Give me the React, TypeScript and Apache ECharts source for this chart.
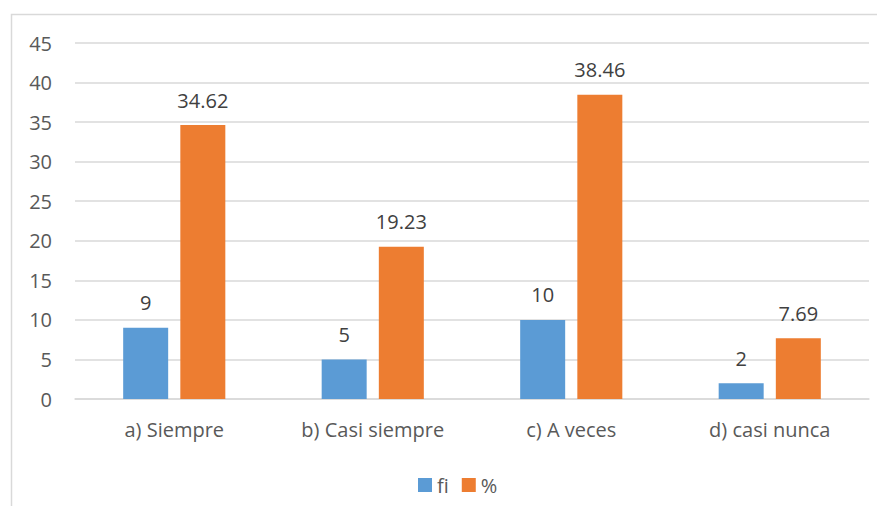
import React, { useEffect, useRef } from "react";
import * as echarts from "echarts";

const categories = ["a) Siempre", "b) Casi siempre", "c) A veces", "d) casi nunca"];
const fiValues = [9, 5, 10, 2];
const pctValues = [34.62, 19.23, 38.46, 7.69];
const seriesNames = ["fi", "%"];

const FONT = "'Open Sans', 'Noto Sans', sans-serif";

export default function App() {
  const ref = useRef<HTMLDivElement>(null);
  useEffect(() => {
    if (!ref.current) return;
    const chart = echarts.init(ref.current, null, { renderer: "svg" });
    const label = {
      show: true,
      position: "top",
      distance: 15,
      color: "#404040",
      fontSize: 20,
      fontFamily: FONT,
    };
    chart.setOption({
      animation: false,
      backgroundColor: "#ffffff",
      textStyle: { fontFamily: FONT },
      graphic: [
        {
          type: "rect",
          shape: { x: 11.5, y: 14.5, width: 900, height: 600 },
          style: { fill: "none", stroke: "#d9d9d9", lineWidth: 1.5 },
          silent: true,
        },
      ],
      grid: { left: 75, right: 16, top: 43, bottom: 115, containLabel: false },
      legend: {
        data: seriesNames,
        top: 470,
        left: 413,
        icon: "rect",
        itemWidth: 14,
        itemHeight: 14,
        itemGap: 13,
        textStyle: { color: "#595959", fontSize: 20, fontFamily: FONT },
      },
      xAxis: {
        type: "category",
        data: categories,
        axisLine: { show: true, lineStyle: { color: "#d9d9d9", width: 1.5 } },
        axisTick: { show: false },
        axisLabel: { color: "#595959", fontSize: 20, fontFamily: FONT, margin: 20 },
      },
      yAxis: {
        type: "value",
        min: 0,
        max: 45,
        interval: 5,
        axisLine: { show: false },
        axisTick: { show: false },
        axisLabel: { color: "#595959", fontSize: 20, fontFamily: FONT, margin: 23 },
        splitLine: { lineStyle: { color: "#d9d9d9", width: 1.5 } },
      },
      series: [
        {
          name: seriesNames[0],
          type: "bar",
          data: fiValues,
          barWidth: 45,
          barGap: "27%",
          itemStyle: { color: "#5B9BD5" },
          label,
        },
        {
          name: seriesNames[1],
          type: "bar",
          data: pctValues,
          barWidth: 45,
          barGap: "27%",
          itemStyle: { color: "#ED7D31" },
          label,
        },
      ],
    });
    return () => chart.dispose();
  }, []);
  return (
    <div style={{ margin: -8 }}>
      <div ref={ref} style={{ width: 885, height: 514 }} />
    </div>
  );
}
